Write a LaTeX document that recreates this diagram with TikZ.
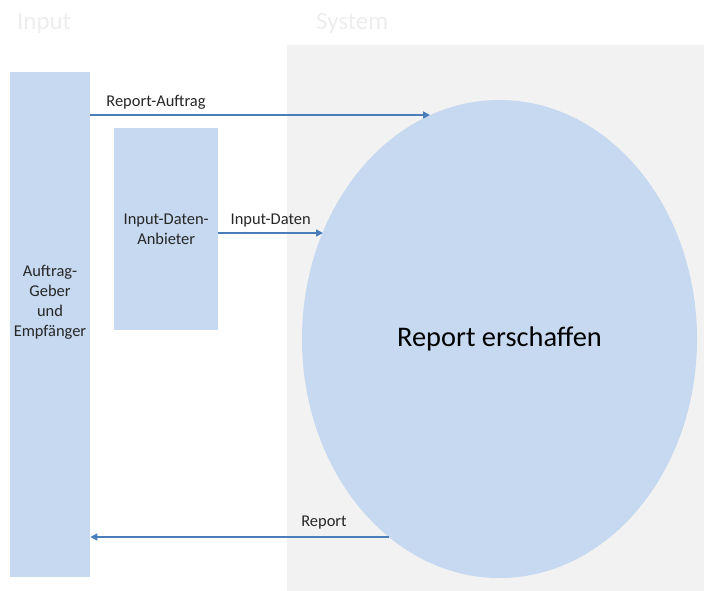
\documentclass[tikz,border=0pt]{standalone}
\usepackage{fontspec}
\setmainfont{Carlito}
\usetikzlibrary{arrows.meta,shapes.geometric}

\definecolor{boxblue}{HTML}{C6D9F0}
\definecolor{flowblue}{HTML}{4A7EBB}
\definecolor{sysgray}{HTML}{F2F2F2}
\definecolor{headgray}{HTML}{EDEDED}

\tikzset{
  actor/.style={fill=boxblue, draw=none, inner sep=0pt, anchor=north west},
  flow/.style={draw=flowblue, line width=1.6pt, -{Triangle[length=7pt,width=7pt]}},
  small/.style={font=\fontsize{16.5}{20}\selectfont, text=black!85},
  heading/.style={font=\fontsize{25}{30}\selectfont, text=headgray, anchor=base west, inner sep=0pt}
}

\begin{document}
\begin{tikzpicture}[x=1bp, y=-1bp]
  \useasboundingbox (0,0) rectangle (704,591);

  % system area
  \fill[sysgray] (287,45) rectangle (704,591);

  % section headings
  \node[heading] (hin) at (17,30) {Input};
  \node[heading] (hsys) at (316,30) {System};

  % actors
  \node[actor, minimum width=80bp, minimum height=505bp] (giver) at (10,72) {};
  \node[small, align=center] (giverlbl) at (50,302) {Auftrag-\\Geber\\und\\Empfänger};
  \node[actor, minimum width=104bp, minimum height=202bp, small, align=center,
        text depth=0pt] (supplier) at (114,128) {Input-Daten-\\Anbieter};

  % process
  \node[ellipse, fill=boxblue, inner sep=0pt, minimum width=395bp, minimum height=478bp,
        font=\fontsize{28.5}{34}\selectfont] (proc) at (499.5,339) {Report erschaffen};

  % points where the flows meet the process border
  \coordinate (inorder) at (430,115);
  \coordinate (indata) at (323,233);
  \coordinate (outrep) at (389,537);

  % flows
  \draw[flow] (giver.east |- inorder) -- (inorder)
    node[small, pos=0.035, above=2bp, anchor=south west] (lblorder) {Report-Auftrag};
  \draw[flow] (supplier.east |- indata) -- (indata)
    node[small, midway, above=2bp] (lbldata) {Input-Daten};
  \draw[flow] (outrep) -- (giver.east |- outrep);
  \node[small, anchor=south] (lblrep) at (324,533) {Report};
\end{tikzpicture}
\end{document}
